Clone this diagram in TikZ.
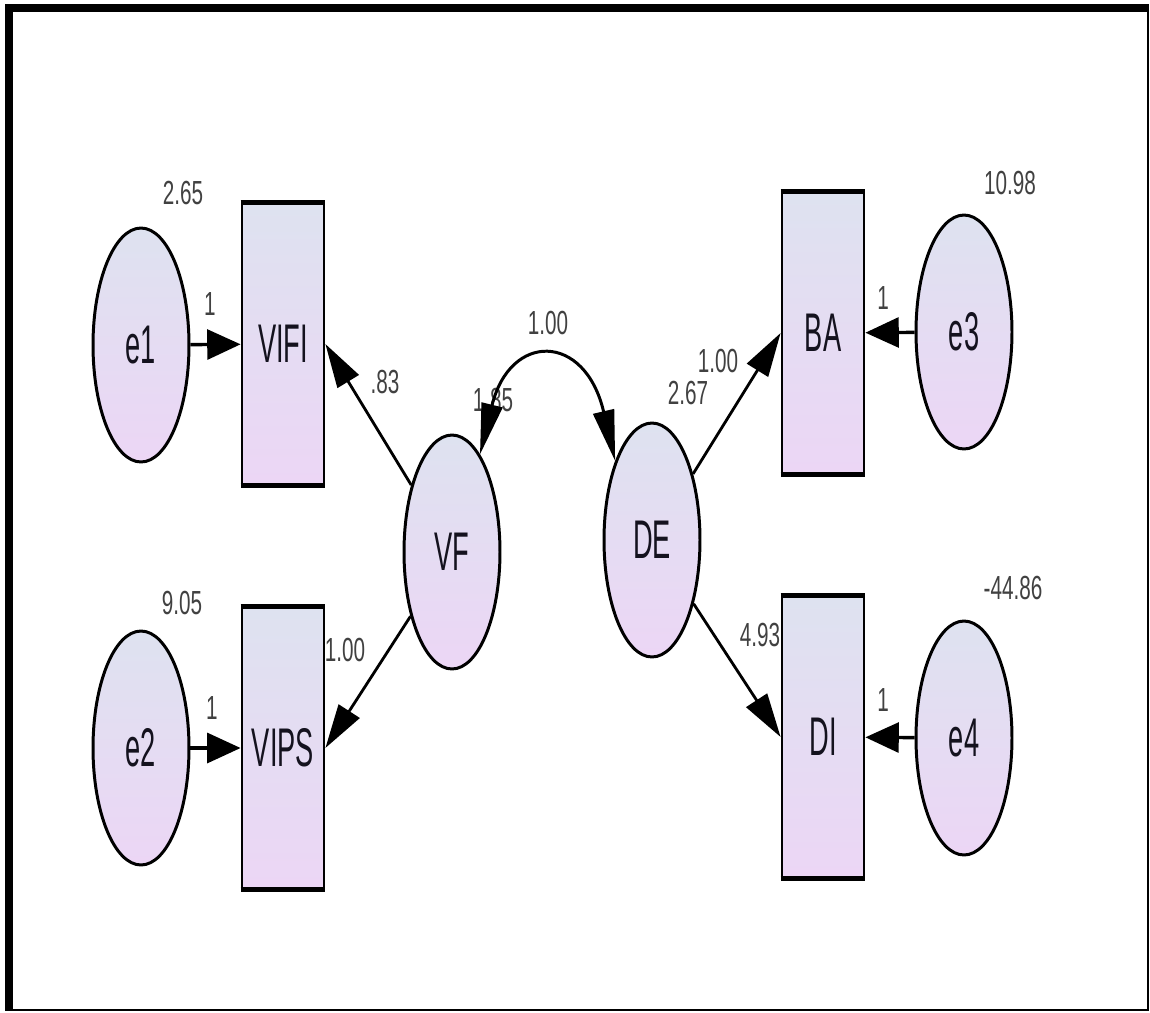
\documentclass[tikz,border=0pt]{standalone}
\usepackage{fontspec}
\usepackage{graphicx}
\usetikzlibrary{shapes.geometric,arrows.meta}
\newfontfamily\labfont{Liberation Sans}
\definecolor{ctop}{RGB}{222,226,240}
\definecolor{cbot}{RGB}{236,214,245}
\definecolor{numc}{RGB}{65,65,65}
\definecolor{txtc}{RGB}{20,18,30}
\newcommand\mainlab[1]{\scalebox{0.5}[1]{\labfont\fontsize{31}{31}\selectfont #1}}
\newcommand\numlab[1]{\scalebox{0.62}[1]{\labfont\fontsize{19}{19}\selectfont #1}}
\tikzset{
  lat/.style={ellipse, draw=black, line width=1.7pt, minimum width=1.92cm, minimum height=4.68cm,
    inner sep=0pt, top color=ctop, bottom color=cbot, text=txtc},
  obs/.style={rectangle, draw=black, line width=1.6pt, minimum width=1.64cm, minimum height=5.6cm,
    inner sep=0pt, top color=ctop, bottom color=cbot, text=txtc},
  num/.style={text=numc, inner sep=0pt},
  errarrow/.style={line width=1.9pt, -{Triangle[length=19pt,width=17pt]}},
  loadarrow/.style={line width=1.6pt, -{Triangle[length=25pt,width=14pt]}},
  covarrow/.style={line width=1.7pt, {Triangle[length=29pt,width=12pt]}-{Triangle[length=29pt,width=12pt]}},
}
\begin{document}
\begin{tikzpicture}[x=0.02cm,y=-0.02cm]
\useasboundingbox (0,0) rectangle (1150,1012);
% frame
\fill[black] (5,4) rectangle (1149,1011);
\fill[white] (13,12) rectangle (1147,1009);

% nodes
\node[lat] (e1) at (141,345) {\mainlab{e1}};
\node[lat] (e2) at (141,748) {\mainlab{e2}};
\node[lat] (VF) at (452,552) {\mainlab{VF}};
\node[lat] (DE) at (652,540) {\mainlab{DE}};
\node[lat] (e3) at (964,332) {\mainlab{e3}};
\node[lat] (e4) at (964,738) {\mainlab{e4}};
\node[obs] (VIFI) at (283,344) {\mainlab{VIFI}};
\node[obs] (VIPS) at (283,748) {\mainlab{VIPS}};
\node[obs] (BA) at (823,333) {\mainlab{BA}};
\node[obs] (DI) at (823,737) {\mainlab{DI}};
\foreach \n in {VIFI,VIPS,BA,DI}{
  \draw[line width=2.8pt] (\n.north west) -- (\n.north east);
  \draw[line width=2.8pt] (\n.south west) -- (\n.south east);
}

% labels (drawn before arrows so the covariance arrowhead sits on top)
\node[num] (l265) at (183,193) {\numlab{2.65}};
\node[num] (l905) at (182,603) {\numlab{9.05}};
\node[num] (l1098) at (1010,183) {\numlab{10.98}};
\node[num] (l4486) at (1013,588) {\numlab{-44.86}};
\node[num] (le1) at (210,304) {\numlab{1}};
\node[num] (le2) at (212,708) {\numlab{1}};
\node[num] (le3) at (883,298) {\numlab{1}};
\node[num] (le4) at (883,700) {\numlab{1}};
\node[num] (l83) at (385,382) {\numlab{.83}};
\node[num] (l100a) at (345,650) {\numlab{1.00}};
\node[num] (l100c) at (548,323) {\numlab{1.00}};
\node[num] (l185) at (493,400) {\numlab{1.85}};
\node[num] (l267) at (688,393) {\numlab{2.67}};
\node[num] (l100b) at (718,361) {\numlab{1.00}};
\node[num] (l493) at (760,635) {\numlab{4.93}};

% error arrows
\draw[errarrow] (e1) -- (VIFI);
\draw[errarrow] (e2) -- (VIPS);
\draw[errarrow] (e3) -- (BA);
\draw[errarrow] (e4) -- (DI);

% loadings
\draw[loadarrow] (VF) -- (VIFI.east);
\draw[loadarrow] (VF) -- (VIPS.east);
\draw[loadarrow] (DE) -- (BA.west);
\draw[loadarrow] (DE) -- (DI.west);

% covariance
\draw[covarrow] (VF.74) .. controls (510,332) and (585,332) .. (DE.115);
\end{tikzpicture}
\end{document}
